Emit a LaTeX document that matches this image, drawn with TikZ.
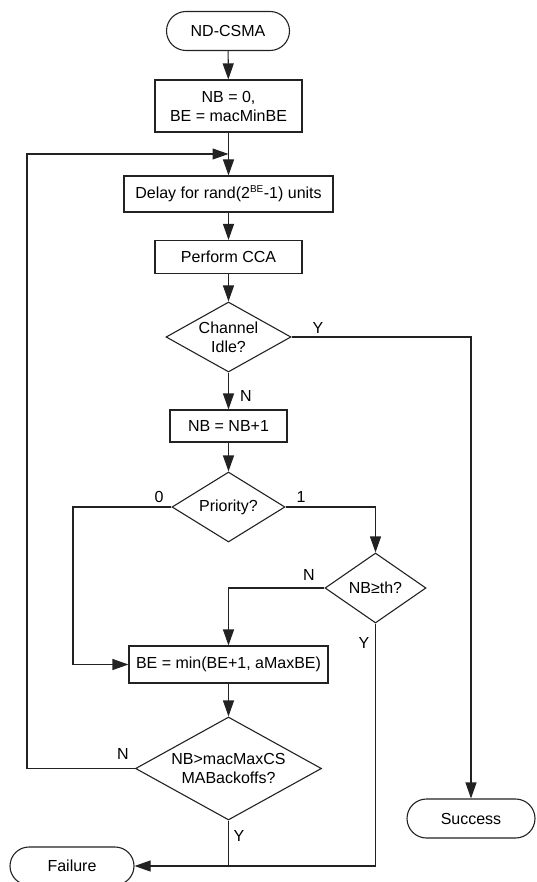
\documentclass[tikz,border=0pt]{standalone}
\usepackage{fontspec}
\setmainfont{Liberation Sans}
\usetikzlibrary{shapes.geometric,shapes.misc,arrows.meta}
\definecolor{ln}{HTML}{222222}
\begin{document}
\begin{tikzpicture}[x=1pt,y=-1pt,
  every node/.style={font=\fontsize{16}{19}\selectfont, text=black},
  box/.style={draw=ln, line width=1.1pt, rectangle, inner sep=0pt, align=center},
  term/.style={draw=ln, line width=1.1pt, rounded rectangle, inner sep=0pt},
  dec/.style={draw=ln, line width=1.1pt, diamond, inner sep=0pt, align=center},
  con/.style={draw=ln, line width=1.1pt},
  arr/.style={con, -{Triangle[length=16pt,width=11pt]}},
  lab/.style={font=\fontsize{16}{19}\selectfont}
]
\useasboundingbox (0,0) rectangle (537,882);
\node[term, minimum width=123pt, minimum height=39pt] (start) at (228,31) {ND-CSMA};
\node[box, minimum width=147pt, minimum height=52pt] (init) at (228.5,106) {NB = 0,\\BE = macMinBE};
\node[box, minimum width=209pt, minimum height=36pt] (delay) at (228.5,194) {Delay for rand(2\textsuperscript{\fontsize{10}{10}\selectfont BE}-1) units};
\node[box, minimum width=147pt, minimum height=33pt] (cca) at (228.5,257) {Perform CCA};
\node[dec, aspect=1.8, minimum width=125pt, minimum height=70pt] (idle) at (228.5,337) {Channel\\Idle?};
\node[box, minimum width=117pt, minimum height=32pt] (nbinc) at (228.5,426) {NB = NB+1};
\node[dec, aspect=1.6, minimum width=113pt, minimum height=70pt] (prio) at (228.5,507) {Priority?};
\node[dec, aspect=1.45, minimum width=101pt, minimum height=70pt] (nbth) at (375.5,588) {NB≥th?};
\node[box, minimum width=199pt, minimum height=37pt] (be) at (228.5,664.5) {BE = min(BE+1, aMaxBE)};
\node[dec, aspect=1.8, minimum width=186pt, minimum height=103pt] (max) at (228.5,768.5) {NB>macMaxCS\\MABackoffs?};
\node[term, minimum width=124pt, minimum height=38pt] (fail) at (72,866) {Failure};
\node[term, minimum width=128pt, minimum height=39pt] (succ) at (471,818.5) {Success};

\coordinate (merge) at (228.5,154);
\coordinate (loopL) at (27,154);
\coordinate (zeroL) at (73,507);
\coordinate (join) at (228.5,866);

\draw[arr] (start) -- (init);
\draw[arr] (init) -- (delay);
\draw[arr] (delay) -- (cca);
\draw[arr] (cca) -- (idle);
\draw[arr] (idle) -- (nbinc);
\draw[arr] (nbinc) -- (prio);
\draw[arr] (be) -- (max);
\draw[arr] (idle.east) -| (succ.north);
\draw[arr] (prio.east) -| (nbth.north);
\draw[arr] (prio.west) -- (zeroL) |- (be.west);
\draw[arr] (nbth.west) -| (be.north);
\draw[arr] (nbth.south) |- (fail.east);
\draw[con] (max.south) -- (join);
\draw[arr] (max.west) -- (loopL |- max.west) -- (loopL) -- (merge);

\node[lab] at (318,328) {Y};
\node[lab] at (246,396) {N};
\node[lab] at (159,497) {0};
\node[lab] at (301,497) {1};
\node[lab] at (309,575) {N};
\node[lab] at (364,643) {Y};
\node[lab] at (123,754) {N};
\node[lab] at (239,836) {Y};
\end{tikzpicture}
\end{document}
